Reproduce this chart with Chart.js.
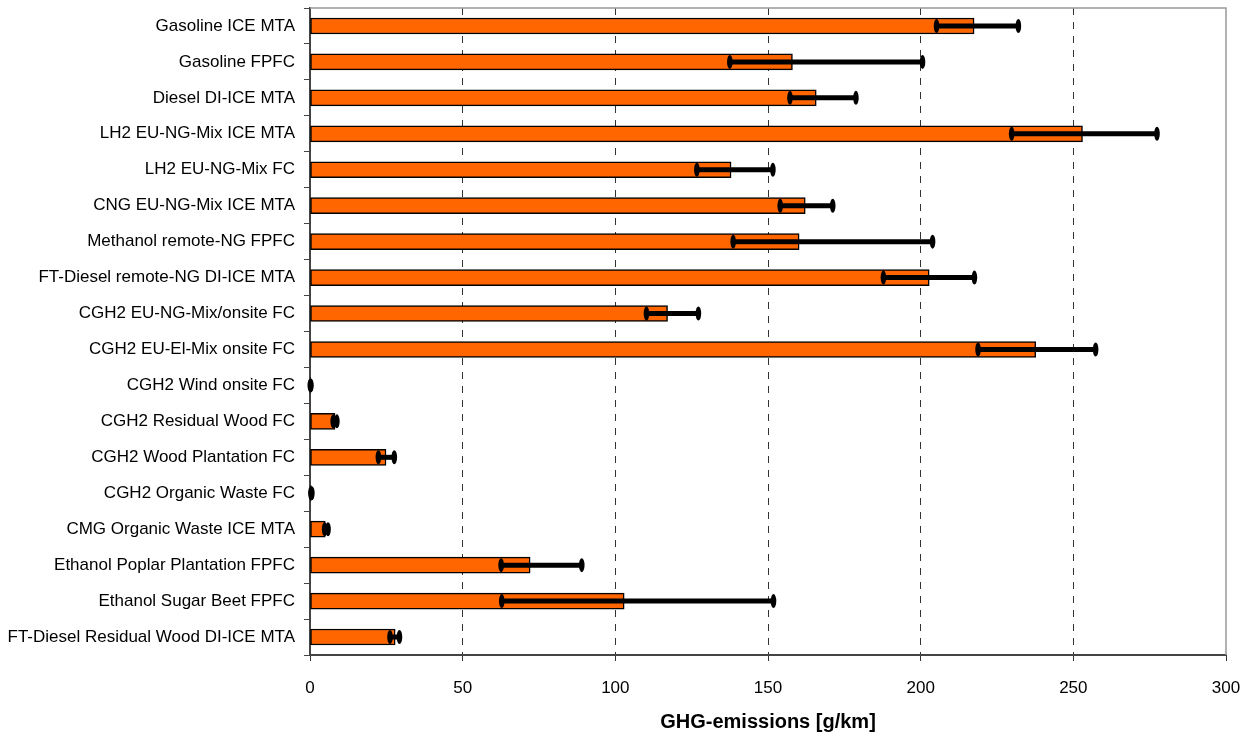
<!DOCTYPE html>
<html>
<head>
  <meta charset="UTF-8">
  <title>GHG emissions</title>
  <script src="https://cdn.jsdelivr.net/npm/chart.js"></script>
  <style>
    body {
      margin: 0;
      background: #fff;
    }
    canvas {
      display: block;
    }
  </style>
</head>
<body>

  <canvas id="ghgChart" width="1256" height="744"></canvas>

  <script>
    const pathways = [
      'Gasoline ICE MTA',
      'Gasoline FPFC',
      'Diesel DI-ICE MTA',
      'LH2 EU-NG-Mix ICE MTA',
      'LH2 EU-NG-Mix FC',
      'CNG EU-NG-Mix ICE MTA',
      'Methanol remote-NG FPFC',
      'FT-Diesel remote-NG DI-ICE MTA',
      'CGH2 EU-NG-Mix/onsite FC',
      'CGH2 EU-El-Mix onsite FC',
      'CGH2 Wind onsite FC',
      'CGH2 Residual Wood FC',
      'CGH2 Wood Plantation FC',
      'CGH2 Organic Waste FC',
      'CMG Organic Waste ICE MTA',
      'Ethanol Poplar Plantation FPFC',
      'Ethanol Sugar Beet FPFC',
      'FT-Diesel Residual Wood DI-ICE MTA'
    ];
    // g/km, bar value and the min / max of the range
    const emissions = [217.5, 158, 165.8, 253, 137.9, 162.2, 160.2, 202.8, 117.1, 237.7, 0.2, 8.2, 24.9, 0.4, 5.0, 72.1, 102.9, 27.9];
    const rangeLow  = [205.2, 137.5, 157.2, 229.8, 126.7, 154.0, 138.6, 187.8, 110.2, 218.8, 0.1, 7.6, 22.4, 0.3, 4.8, 62.6, 62.8, 26.2];
    const rangeHigh = [232, 200.6, 178.8, 277.4, 151.6, 171.2, 203.9, 217.6, 127.2, 257.3, 0.3, 8.8, 27.6, 0.6, 5.9, 89.0, 151.8, 29.3];
    const xTicks = [0, 50, 100, 150, 200, 250, 300];

    // range whiskers + grey frame on top/right
    const rangePlugin = {
      id: 'rangeBars',
      afterDatasetsDraw(chart) {
        const { ctx, chartArea, scales } = chart;
        const xs = scales.x, ys = scales.y;
        ctx.save();
        ctx.strokeStyle = '#999';
        ctx.lineWidth = 1.5;
        ctx.beginPath();
        ctx.moveTo(chartArea.left, chartArea.top);
        ctx.lineTo(chartArea.right, chartArea.top);
        ctx.lineTo(chartArea.right, chartArea.bottom);
        ctx.stroke();

        ctx.fillStyle = '#000';
        ctx.strokeStyle = '#000';
        for (let i = 0; i < pathways.length; i++) {
          const y = ys.getPixelForValue(i);
          const x1 = xs.getPixelForValue(rangeLow[i]);
          const x2 = xs.getPixelForValue(rangeHigh[i]);
          ctx.lineWidth = 5;
          ctx.beginPath();
          ctx.moveTo(x1, y);
          ctx.lineTo(x2, y);
          ctx.stroke();
          [x1, x2].forEach(x => {
            ctx.beginPath();
            ctx.ellipse(x, y, 2.8, 7, 0, 0, Math.PI * 2);
            ctx.fill();
          });
        }
        ctx.restore();
      }
    };

    const ctx = document.getElementById('ghgChart').getContext('2d');
    const chart = new Chart(ctx, {
      type: 'bar',
      data: {
        labels: pathways,
        datasets: [{
          data: emissions,
          backgroundColor: '#FF6600',
          borderColor: '#000',
          borderWidth: 1.5,
          borderSkipped: false,
          barThickness: 16
        }]
      },
      options: {
        indexAxis: 'y',
        responsive: false,
        animation: false,
        layout: { padding: { top: 8, right: 30, left: 0, bottom: 0 } },
        plugins: {
          legend: { display: false },
          tooltip: { enabled: false }
        },
        scales: {
          x: {
            min: 0,
            max: 300,
            afterBuildTicks: axis => { axis.ticks = xTicks.map(v => ({ value: v })); },
            afterFit: axis => {
              axis.height = 89;
              axis.paddingLeft = 0;
              axis.paddingRight = 0;
            },
            ticks: {
              color: '#000',
              padding: 17,
              font: { family: 'Liberation Sans', size: 17 }
            },
            grid: {
              color: c => (c.tick && (c.tick.value === 0 || c.tick.value === 300)) ? 'rgba(0,0,0,0)' : '#333',
              lineWidth: 1,
              tickColor: '#333',
              tickLength: 6
            },
            border: { color: '#444', width: 2, dash: [7, 7] },
            title: {
              display: true,
              text: 'GHG-emissions [g/km]',
              color: '#000',
              padding: { top: 0, bottom: 10 },
              font: { family: 'Liberation Sans', size: 20, weight: 'bold' }
            }
          },
          y: {
            afterFit: axis => {
              axis.width = 310;
              axis.paddingTop = 0;
              axis.paddingBottom = 0;
            },
            ticks: {
              color: '#000',
              padding: 9,
              crossAlign: 'near',
              font: { family: 'Liberation Sans', size: 17 }
            },
            grid: {
              drawOnChartArea: false,
              tickColor: '#444',
              tickLength: 6
            },
            border: { color: '#444', width: 2 }
          }
        }
      },
      plugins: [rangePlugin]
    });
  </script>

</body>
</html>
